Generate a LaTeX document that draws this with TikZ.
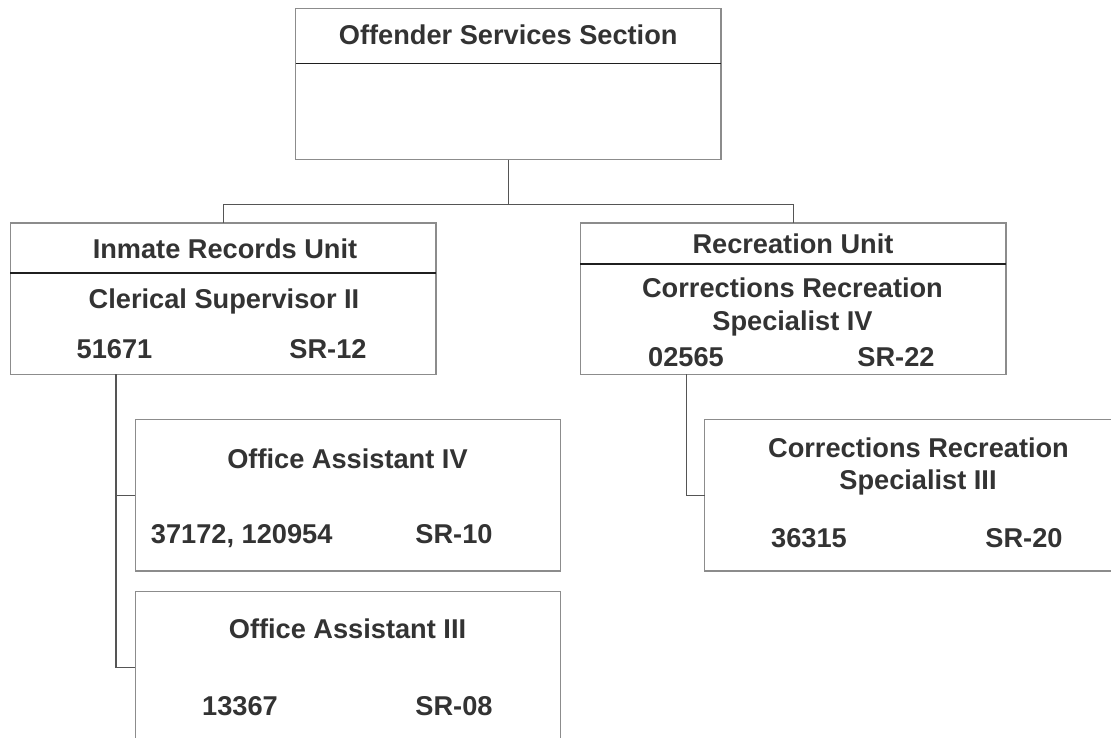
\documentclass[tikz,border=0pt]{standalone}
\usepackage{fontspec}
\setmainfont{Liberation Sans}
\definecolor{txt}{HTML}{333333}
\definecolor{frame}{HTML}{8C8C8C}
\definecolor{rule}{HTML}{1F1F1F}
\definecolor{link}{HTML}{555555}
\begin{document}
\begin{tikzpicture}[x=1pt,y=-1pt,
  box/.style={draw=frame,line width=1.4pt,minimum width=425.5pt,minimum height=151.5pt,inner sep=0pt,outer sep=0pt},
  lbl/.style={anchor=base,inner sep=0pt,text=txt,font=\fontsize{27.2}{32}\selectfont\bfseries},
  divider/.style={draw=rule,line width=1.8pt},
  conn/.style={draw=link,line width=1.4pt}]
\useasboundingbox (0,0) rectangle (1111,738);
% boxes
\node[box] (top) at (508.25,84) {};
\node[box] (ir) at (223.2,298.8) {};
\node[box] (rec) at (793.2,298.8) {};
\node[box] (oa4) at (348,495.4) {};
\node[box] (oa3) at (348,667.5) {};
\node[box] (crs3) at (917.3,495.2) {};
% dividers
\draw[divider] (top.west |- 0,63.5) -- (top.east |- 0,63.5);
\draw[divider] (ir.west |- 0,273) -- (ir.east |- 0,273);
\draw[divider] (rec.west |- 0,264) -- (rec.east |- 0,264);
% connectors
\coordinate (bus) at (508.25,204.5);
\draw[conn] (top.south) -- (bus);
\draw[conn] (bus) -| (ir.north);
\draw[conn] (bus) -| (rec.north);
\coordinate (irdrop) at (116,374.3);
\coordinate (recdrop) at (686.7,374.3);
\draw[conn] (irdrop) |- (oa4.west);
\draw[conn] (irdrop) |- (oa3.west);
\draw[conn] (recdrop) |- (crs3.west);
% texts
\node[lbl] (t0) at (508.25,45) {Offender Services Section};
\node[lbl] (t1) at (225,258.3) {Inmate Records Unit};
\node[lbl] (t2) at (224,308.3) {Clerical Supervisor II};
\node[lbl] (t3) at (114.5,358.3) {51671};
\node[lbl] (t4) at (328,358.3) {SR-12};
\node[lbl] (t5) at (793,253.3) {Recreation Unit};
\node[lbl] (t6) at (792.5,297.3) {Corrections Recreation};
\node[lbl] (t7) at (792.5,330) {Specialist IV};
\node[lbl] (t8) at (686,366) {02565};
\node[lbl] (t9) at (896,366) {SR-22};
\node[lbl] (t10) at (347.5,468.3) {Office Assistant IV};
\node[lbl] (t11) at (241.7,543.3) {37172, 120954};
\node[lbl] (t12) at (454,543.3) {SR-10};
\node[lbl] (t13) at (347.5,638.3) {Office Assistant III};
\node[lbl] (t14) at (240,715) {13367};
\node[lbl] (t15) at (454,715) {SR-08};
\node[lbl] (t16) at (918.5,457.3) {Corrections Recreation};
\node[lbl] (t17) at (918,489.3) {Specialist III};
\node[lbl] (t18) at (809,547.7) {36315};
\node[lbl] (t19) at (1024,547.7) {SR-20};
\end{tikzpicture}
\end{document}
